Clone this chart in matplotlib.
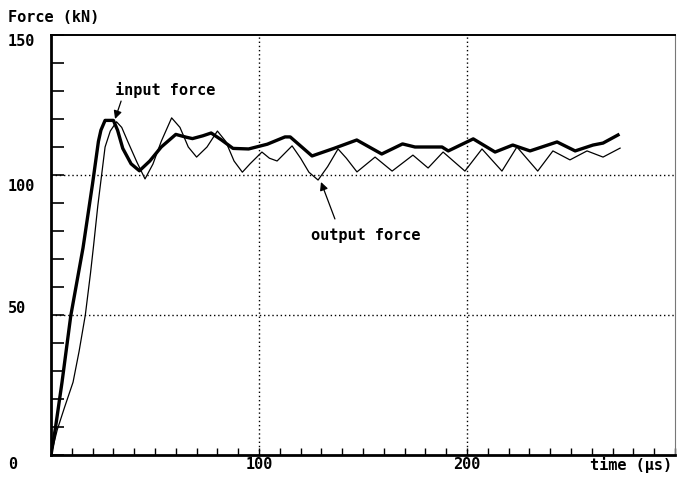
import matplotlib
matplotlib.use("Agg")
import matplotlib.pyplot as plt
from matplotlib.transforms import blended_transform_factory
from matplotlib.ticker import MultipleLocator

# ---- data ----
t_input = [0, 2, 5.3, 9.5, 15.4, 17.8, 20, 22.8, 24, 26, 30, 32, 34.5, 38.5, 42.5,
           47.5, 53, 60, 65, 68, 73, 77, 82, 87.5, 95, 104, 112.5, 115, 125.5,
           136, 147, 159, 169, 175, 188, 191, 203, 213.5, 222, 230.3, 243.3,
           252, 260.6, 265.4, 272.6]
f_input = [0, 9, 26, 49.7, 74, 86, 97, 112, 116, 119.5, 119.5, 116, 109.5, 104, 101.5,
           105, 110, 114.5, 113.5, 113, 114, 115, 112.5, 109.5, 109.3, 111, 113.6, 113.6, 106.8,
           109.5, 112.5, 107.5, 111.1, 110, 110, 108.6, 112.9, 108.2, 110.7, 108.6, 111.8,
           108.6, 110.7, 111.4, 114.3]

t_output = [0, 3, 6.5, 10.6, 13.5, 16.5, 19, 20.5, 22.5, 24, 26, 28.5, 31.5, 34, 37,
            41.3, 45.2, 49, 53, 58, 62, 66, 70, 75, 80, 84, 88, 92, 95.7, 101.4,
            105, 108.7, 115.9, 120, 124, 128.4, 133, 138, 142, 147.1, 155.8, 164,
            174, 181.3, 188.5, 199, 207.2, 216.8, 224, 234, 241.3, 249.5, 257.7,
            265.4, 273.6]
f_output = [0, 9, 17, 26, 37, 50, 65, 75, 89, 98, 110, 115.7, 119, 117, 111.8,
            104.6, 98.6, 103.9, 112, 120.4, 117, 110, 106.4, 110, 115.7, 112, 105, 101, 104, 108.2,
            106, 105, 110.4, 106, 101, 98.2, 103, 109.3, 106, 101.1, 106.4, 101.4,
            107.1, 102.5, 108.2, 101.4, 109.3, 101.4, 110, 101.4, 108.6, 105.4, 108.6,
            106.4, 109.6]

y_ticklabels = ["150", "100", "50", "0"]
y_label_vals = [147.9, 96.1, 52.5, -3.2]
x_ticklabels = ["100", "200"]
x_label_vals = [100, 200]

FONT = dict(family="DejaVu Sans Mono", fontsize=11, fontweight="bold")

W, H = 677, 485
fig = plt.figure(figsize=(W / 100, H / 100), dpi=100)
ax = fig.add_axes([51 / W, 1 - 456 / H, 624 / W, 420 / H])

ax.plot(t_input, f_input, color="black", lw=2.4, solid_joinstyle="round")
ax.plot(t_output, f_output, color="black", lw=0.9)

ax.set_xlim(0, 300)
ax.set_ylim(0, 150)

# grid (dotted)
for xv in (100, 200):
    ax.axvline(xv, color="black", lw=1, ls=(0, (1, 2)))
for yv in (50, 100):
    ax.axhline(yv, color="black", lw=1, ls=(0, (1, 2)))

# ticks
ax.xaxis.set_major_locator(MultipleLocator(10))
ax.yaxis.set_major_locator(MultipleLocator(10))
ax.tick_params(axis="y", direction="in", length=9, width=1.2, labelleft=False)
ax.tick_params(axis="x", direction="in", length=5, width=1, labelbottom=False)

for s in ("left", "bottom"):
    ax.spines[s].set_linewidth(2)
ax.spines["top"].set_linewidth(1.4)
ax.spines["right"].set_linewidth(0.8)
ax.spines["right"].set_color("#777777")

# tick labels
ty = blended_transform_factory(fig.transFigure, ax.transData)
for lab, v in zip(y_ticklabels, y_label_vals):
    ax.text(8 / W, v, lab, transform=ty, ha="left", va="center", clip_on=False, **FONT)
tx = blended_transform_factory(ax.transData, fig.transFigure)
for lab, v in zip(x_ticklabels, x_label_vals):
    ax.text(v, 1 - 465 / H, lab, transform=tx, ha="center", va="center", **FONT)
fig.text(672 / W, 1 - 465 / H, "time (μs)", ha="right", va="center", **FONT)
fig.text(8 / W, 1 - 17 / H, "Force (kN)", ha="left", va="center", **FONT)

# annotations
arrow = dict(arrowstyle="-|>", color="black", lw=0.9, mutation_scale=12,
             shrinkA=0, shrinkB=0)
ax.text(54.8, 130.7, "input force", ha="center", va="center", **FONT)
ax.annotate("", xy=(30.8, 120), xytext=(33.7, 126.4), arrowprops=arrow)
ax.text(151.4, 78.9, "output force", ha="center", va="center", **FONT)
ax.annotate("", xy=(129.8, 97.5), xytext=(136.5, 84.3), arrowprops=arrow)

fig.savefig("out.png", dpi=100)
